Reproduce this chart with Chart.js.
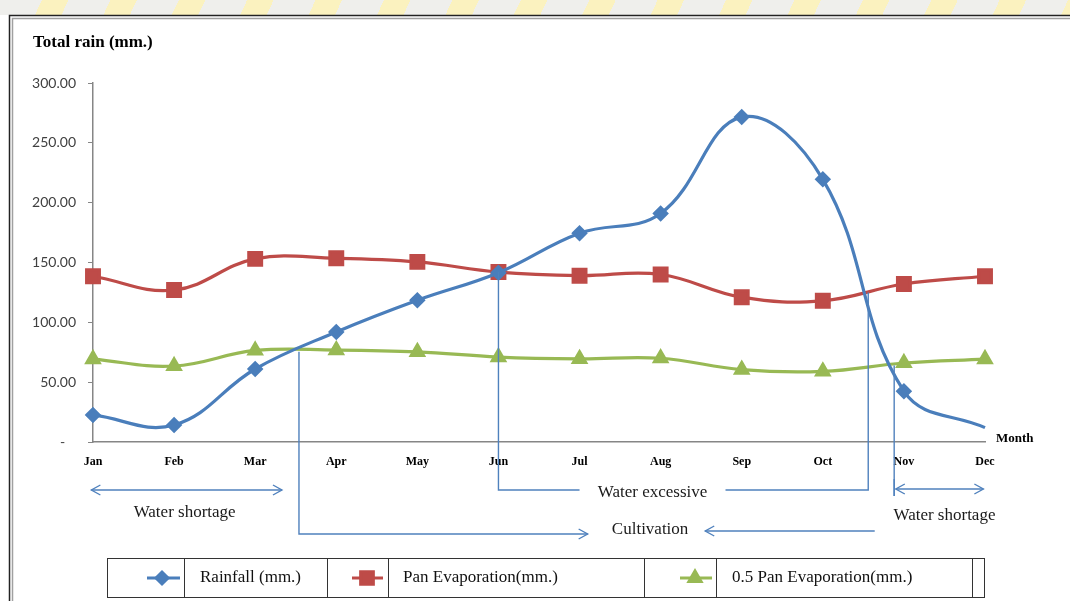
<!DOCTYPE html>
<html>
<head>
<meta charset="utf-8">
<script src="https://cdn.jsdelivr.net/npm/chart.js@4.4.0/dist/chart.umd.min.js"></script>
<style>
body { margin: 0; background: #fff; }
#wrap { position: relative; width: 1070px; height: 601px; overflow: hidden; }
#band {
    position: absolute; left: 0; top: 0; width: 1070px; height: 15px;
    background: repeating-linear-gradient(115deg, #efefec 0px, #efefec 38px, #fbf2bf 38px, #fbf2bf 62px);
}
canvas { position: absolute; left: 0; top: 0; }
</style>
</head>
<body>
<div id="wrap">
    <div id="band"></div>
    <canvas id="chartId" width="1070" height="601"></canvas>
</div>
<script>
var months = ['Jan', 'Feb', 'Mar', 'Apr', 'May', 'Jun', 'Jul', 'Aug', 'Sep', 'Oct', 'Nov', 'Dec'];
var rainfall = [22.6, 14.2, 61.0, 92.0, 118.5, 141.5, 174.5, 191.0, 271.5, 219.5, 42.5, 12.0];
var panEvap = [138.5, 127.0, 153.0, 153.5, 150.5, 142.0, 139.0, 140.0, 121.0, 118.0, 132.0, 138.5];
var halfPanEvap = [69.3, 63.5, 76.5, 76.8, 75.3, 71.0, 69.5, 70.0, 60.5, 59.0, 66.0, 69.3];
var seriesNames = ['Rainfall (mm.)', 'Pan Evaporation(mm.)', '0.5 Pan Evaporation(mm.)'];

var blue = '#4a7ebb';
var red = '#be4b48';
var green = '#98b954';
var noteColor = '#4f81bd';
var serif = '"Liberation Serif", "Times New Roman", serif';

function line(ctx, pts) {
    ctx.beginPath();
    ctx.moveTo(pts[0][0], pts[0][1]);
    for (var i = 1; i < pts.length; i++) {
        ctx.lineTo(pts[i][0], pts[i][1]);
    }
    ctx.stroke();
}

function arrowHead(ctx, x, y, dir) {
    // open chevron, dir = 1 points right, -1 points left
    line(ctx, [[x - dir * 9, y - 5], [x, y], [x - dir * 9, y + 5]]);
}

function text(ctx, str, x, y, font, align) {
    ctx.font = font;
    ctx.textAlign = align || 'center';
    ctx.textBaseline = 'middle';
    ctx.fillText(str, x, y);
}

// season brackets and arrows under the axis
var notesPlugin = {
    id: 'notes',
    afterDatasetsDraw: function(chart) {
        var ctx = chart.ctx;
        var xs = chart.scales.x;
        var ys = chart.scales.y;
        var px = function(i) { return xs.getPixelForValue(i); };
        var py = function(v) { return ys.getPixelForValue(v); };
        var rowA = 490, rowB = 534;

        ctx.save();
        ctx.strokeStyle = noteColor;
        ctx.lineWidth = 1.4;

        // water shortage (left)
        line(ctx, [[px(-0.02), rowA], [px(2.33), rowA]]);
        arrowHead(ctx, px(-0.02), rowA, -1);
        arrowHead(ctx, px(2.33), rowA, 1);

        // water excessive bracket
        line(ctx, [[px(5), py(142)], [px(5), rowA], [px(6.0), rowA]]);
        line(ctx, [[px(7.8), rowA], [px(9.56), rowA], [px(9.56), py(125)]]);

        // water shortage (right)
        line(ctx, [[px(9.88), py(64)], [px(9.88), rowA + 6]]);
        line(ctx, [[px(9.88), rowA - 11], [px(9.88), rowA + 6]]);
        line(ctx, [[px(9.9), rowA - 1], [px(10.98), rowA - 1]]);
        arrowHead(ctx, px(9.9), rowA - 1, -1);
        arrowHead(ctx, px(10.98), rowA - 1, 1);

        // cultivation
        line(ctx, [[px(2.54), py(75.5)], [px(2.54), rowB], [px(6.1), rowB]]);
        arrowHead(ctx, px(6.1), rowB, 1);
        line(ctx, [[px(7.55), rowB - 3], [px(9.64), rowB - 3]]);
        arrowHead(ctx, px(7.55), rowB - 3, -1);

        ctx.fillStyle = '#1a1a1a';
        var f = '17px ' + serif;
        text(ctx, 'Water shortage', px(1.13), 513, f);
        text(ctx, 'Water excessive', px(6.9), 493, f);
        text(ctx, 'Water shortage', px(10.5), 516, f);
        text(ctx, 'Cultivation', px(6.87), 530, f);
        ctx.restore();
    },
    afterDraw: function(chart) {
        var ctx = chart.ctx;
        ctx.save();

        // frame
        ctx.lineWidth = 1.5;
        ctx.strokeStyle = '#222';
        line(ctx, [[9.5, 601], [9.5, 15.5], [1070, 15.5]]);
        ctx.strokeStyle = '#a0a0a0';
        line(ctx, [[12.5, 601], [12.5, 18.5], [1070, 18.5]]);

        ctx.fillStyle = '#000';
        text(ctx, 'Total rain (mm.)', 33, 43, 'bold 17px ' + serif, 'left');
        text(ctx, 'Month', 996, 439, 'bold 13px ' + serif, 'left');

        // legend table
        var top = 558, bottom = 597, mid = 578;
        ctx.strokeStyle = '#333';
        ctx.lineWidth = 1;
        ctx.strokeRect(107.5, top + 0.5, 877, bottom - top);
        [184, 327, 388, 644, 716, 972].forEach(function(x) {
            line(ctx, [[x + 0.5, top], [x + 0.5, bottom]]);
        });
        var items = [
            {x0: 147, x1: 180, xm: 162, xt: 200},
            {x0: 352, x1: 383, xm: 367, xt: 403},
            {x0: 680, x1: 712, xm: 695, xt: 732}
        ];
        chart.data.datasets.forEach(function(ds, i) {
            var it = items[i];
            ctx.strokeStyle = ds.borderColor;
            ctx.lineWidth = 3;
            line(ctx, [[it.x0, mid], [it.x1, mid]]);
            ctx.fillStyle = ds.pointBackgroundColor;
            ctx.strokeStyle = ds.pointBorderColor;
            Chart.helpers.drawPoint(ctx, {
                pointStyle: ds.pointStyle,
                radius: ds.legendRadius,
                rotation: 0,
                borderWidth: 1
            }, it.xm, mid);
            ctx.fillStyle = '#111';
            text(ctx, ds.label, it.xt, mid, '17px ' + serif, 'left');
        });
        ctx.restore();
    }
};

var chart = document.getElementById('chartId').getContext('2d');
var chartId = new Chart(chart, {
    type: 'line',
    data: {
        labels: months,
        datasets: [{
            label: seriesNames[0],
            data: rainfall,
            borderColor: blue,
            pointBackgroundColor: blue,
            pointBorderColor: blue,
            pointStyle: 'rectRot',
            pointRadius: [6, 6, 6, 6, 6, 6, 6, 6, 6, 6, 6, 0],
            legendRadius: 6,
            borderWidth: 3.2,
            tension: 0.4
        }, {
            label: seriesNames[1],
            data: panEvap,
            borderColor: red,
            pointBackgroundColor: red,
            pointBorderColor: red,
            pointStyle: 'rect',
            pointRadius: 9,
            legendRadius: 9,
            borderWidth: 3.2,
            tension: 0.4
        }, {
            label: seriesNames[2],
            data: halfPanEvap,
            borderColor: green,
            pointBackgroundColor: green,
            pointBorderColor: green,
            pointStyle: 'triangle',
            pointRadius: 7,
            legendRadius: 7,
            borderWidth: 3.2,
            tension: 0.4
        }]
    },
    options: {
        responsive: false,
        animation: false,
        layout: {
            padding: {left: 23, top: 83, right: 85, bottom: 129}
        },
        plugins: {
            legend: {display: false},
            tooltip: {enabled: false}
        },
        scales: {
            x: {
                grid: {drawOnChartArea: false, drawTicks: false},
                border: {display: true, color: '#868686', width: 1.5},
                ticks: {
                    font: {family: serif, size: 12, weight: 'bold'},
                    color: '#000',
                    padding: 13,
                    maxRotation: 0,
                    autoSkip: false
                },
                afterFit: function(scale) { scale.height = 30; }
            },
            y: {
                min: 0,
                max: 300,
                grid: {drawOnChartArea: false, drawTicks: true, tickLength: 5, color: '#868686'},
                border: {display: true, color: '#868686', width: 1.5},
                ticks: {
                    stepSize: 50,
                    padding: 12,
                    color: '#404040',
                    font: {family: 'Lato', size: 14},
                    callback: function(value) {
                        return value === 0 ? '-   ' : value.toFixed(2);
                    }
                },
                afterFit: function(scale) { scale.width = 70; }
            }
        }
    },
    plugins: [notesPlugin]
});
</script>
</body>
</html>
